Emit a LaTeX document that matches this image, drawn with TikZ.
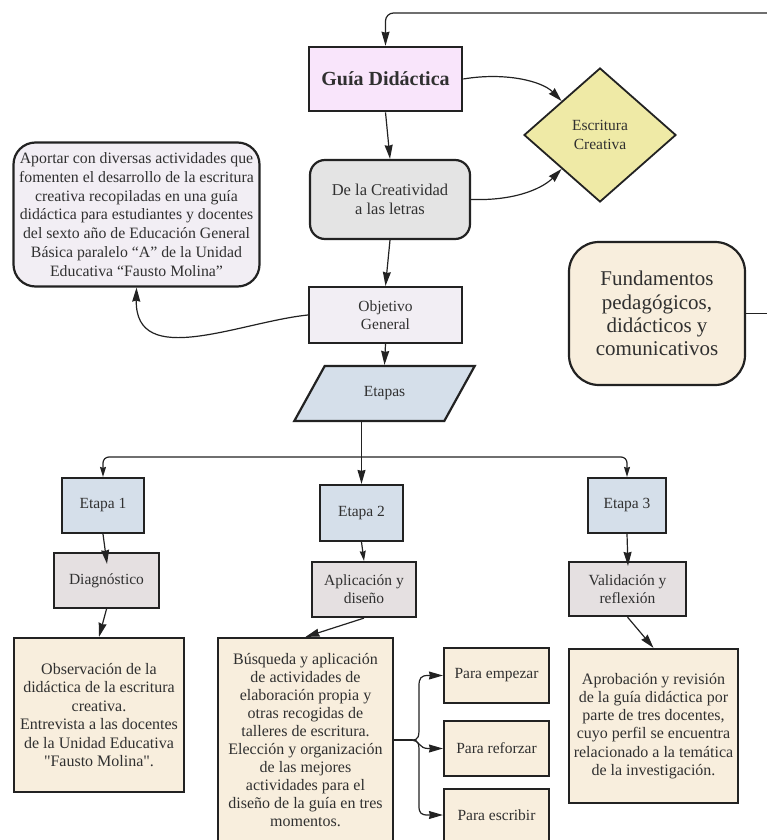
\documentclass[tikz,border=0pt]{standalone}
\usepackage{fontspec}
\setmainfont{Liberation Serif}[Ligatures=TeXOff]
\usetikzlibrary{shapes.geometric,arrows.meta,calc}
\definecolor{txt}{HTML}{303030}
\definecolor{ln}{HTML}{222222}
\definecolor{pinkf}{HTML}{F9E5FB}
\definecolor{yelf}{HTML}{EFEAA6}
\definecolor{grayf}{HTML}{E4E4E4}
\definecolor{lavf}{HTML}{F2EEF4}
\definecolor{bluef}{HTML}{D5DFEA}
\definecolor{gpf}{HTML}{E5E0E1}
\definecolor{creamf}{HTML}{F8EEDD}
\tikzset{
  box/.style={draw=ln, line width=2.2pt, text=txt, align=center, inner sep=0pt, font=\fontsize{15.5}{18.3}\selectfont},
  cn/.style={draw=ln, line width=1.2pt},
  arr/.style={cn, -{Stealth[length=14pt,width=8pt,inset=1pt]}},
  sarr/.style={cn, -{Stealth[length=10pt,width=6pt,inset=1pt]}},
}
\begin{document}
\begin{tikzpicture}[x=1pt,y=-1pt]
\useasboundingbox (0,0) rectangle (767,840);
\clip (0,0) rectangle (767,840);

% nodes
\node[box, fill=pinkf, line width=2.6pt, minimum width=153pt, minimum height=64pt, font=\fontsize{20}{22}\selectfont\bfseries] (guia) at (385.5,79) {Guía Didáctica};
\node[box, diamond, fill=yelf, aspect=1.134, minimum width=152pt, minimum height=134pt, line width=1.8pt, font=\fontsize{15.5}{19}\selectfont] (escr) at (600,135) {Escritura\\Creativa};
\node[box, fill=grayf, rounded corners=15pt, minimum width=160pt, minimum height=79pt, font=\fontsize{16.5}{18.5}\selectfont] (creat) at (390,199.5) {De la Creatividad\\a las letras};
\node[box, fill=lavf, rounded corners=22pt, minimum width=246pt, minimum height=144pt, font=\fontsize{15.8}{18.7}\selectfont] (aport) at (136.5,214.5) {Aportar con diversas actividades que\\fomenten el desarrollo de la escritura\\creativa recopiladas en una guía\\didáctica para estudiantes y docentes\\del sexto año de Educación General\\Básica paralelo “A” de la Unidad\\Educativa “Fausto Molina”};
\node[box, fill=lavf, minimum width=153pt, minimum height=56pt] (obj) at (385.5,315) {Objetivo\\General};
\node[box, trapezium, trapezium left angle=52, trapezium right angle=128, trapezium stretches=true, fill=bluef, minimum width=181pt, minimum height=55pt] (etapas) at (384.5,393.5) {Etapas};
\node[box, fill=creamf, rounded corners=30pt, minimum width=176pt, minimum height=143pt, font=\fontsize{21}{23.3}\selectfont] (fund) at (657,313.5) {Fundamentos\\pedagógicos,\\didácticos y\\comunicativos};

\node[box, fill=bluef, minimum width=82pt, minimum height=55pt] (e1) at (103,505.5) {Etapa 1};
\node[box, fill=bluef, minimum width=83pt, minimum height=56pt] (e2) at (361.5,513) {Etapa 2};
\node[box, fill=bluef, minimum width=78pt, minimum height=55pt] (e3) at (627,505.5) {Etapa 3};

\node[box, fill=gpf, minimum width=105pt, minimum height=55pt] (diag) at (106.5,580.5) {Diagnóstico};
\node[box, fill=gpf, minimum width=104pt, minimum height=55pt] (apli) at (364,589.5) {Aplicación y\\diseño};
\node[box, fill=gpf, minimum width=117pt, minimum height=54pt] (vali) at (627.5,589) {Validación y\\reflexión};

\node[box, fill=creamf, minimum width=170pt, minimum height=154pt, font=\fontsize{16}{18.4}\selectfont] (obs) at (99,715) {Observación de la\\didáctica de la escritura\\creativa.\\Entrevista a las docentes\\de la Unidad Educativa\\"Fausto Molina".};
\node[box, fill=creamf, minimum width=175pt, minimum height=204pt, font=\fontsize{16}{18}\selectfont] (busq) at (305.5,740) {Búsqueda y aplicación\\de actividades de\\elaboración propia y\\otras recogidas de\\talleres de escritura.\\Elección y organización\\de las mejores\\actividades para el\\diseño de la guía en tres\\momentos.};
\node[box, fill=creamf, minimum width=169pt, minimum height=154pt, font=\fontsize{16}{18.3}\selectfont] (apro) at (653.5,726) {Aprobación y revisión\\de la guía didáctica por\\parte de tres docentes,\\cuyo perfil se encuentra\\relacionado a la temática\\de la investigación.};

\node[box, fill=creamf, minimum width=105pt, minimum height=55pt] (emp) at (496.5,675.5) {Para empezar};
\node[box, fill=creamf, minimum width=105pt, minimum height=55pt] (ref) at (496.5,748.5) {Para reforzar};
\node[box, fill=creamf, minimum width=105pt, minimum height=52pt] (esc) at (496.5,815) {Para escribir};

% free ends
\coordinate (topR) at (768,13);
\coordinate (fR) at (768,313.5);
\coordinate (fk) at (361.5,457);
\coordinate (bj) at (412,740);

% connectors
\draw[arr, rounded corners=8pt] (topR) -| (guia.north);
\draw[arr] (guia.east) .. controls (505,72) and (542,81) .. (escr.north west);
\draw[arr] (creat.east) .. controls (520,201) and (545,186) .. (escr.south west);
\draw[arr] (guia.south) -- (creat.north);
\draw[arr] (creat.south) -- (obj.north);
\draw[arr] (obj.west) .. controls (240,322) and (135,370) .. (aport.south);
\draw[arr] (obj.south) -- (etapas.north);
\draw[cn] (fund.east) -- (fR);

\draw[cn] (etapas.south -| fk) -- (fk);
\draw[sarr, rounded corners=6pt] (fk) -| (e1.north);
\draw[sarr, rounded corners=6pt] (fk) -| (e3.north);
\draw[arr] (fk) -- (e2.north);

\draw[arr] (e1.south) -- ($(diag.north)+(0.5,12)$);
\draw[sarr] (e2.south) -- (apli.north);
\draw[arr] (e3.south) -- ($(vali.north)+(0.5,5)$);

\draw[arr] (diag.south) -- (obs.north);
\draw[arr] (apli.south) -- (busq.north);
\draw[arr] (vali.south) -- (apro.north);

\draw[cn] (busq.east) -- (bj);
\draw[arr] (bj) .. controls (419,740) and (419,736) .. (419,726) -- (419,686) .. controls (419,678) and (421,675.5) .. (428,675.5) -- (emp.west);
\draw[arr] (bj) .. controls (419,740) and (419,748.5) .. (428,748.5) -- (ref.west);
\draw[arr] (bj) .. controls (419,740) and (419,744) .. (419,754) -- (419,806) .. controls (419,813) and (421,815) .. (428,815) -- (esc.west);
\end{tikzpicture}
\end{document}
